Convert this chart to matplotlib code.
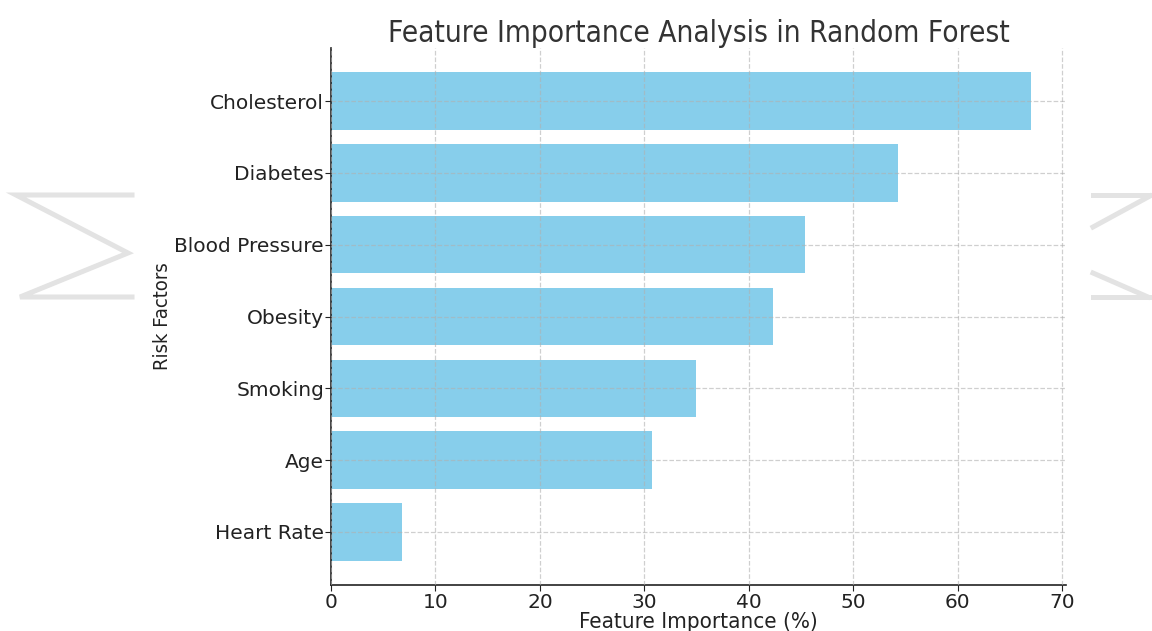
import matplotlib
matplotlib.use("Agg")
import matplotlib.pyplot as plt
from matplotlib.lines import Line2D

# Feature importance values (%) for each risk factor
risk_factors = ["Cholesterol", "Diabetes", "Blood Pressure", "Obesity",
                "Smoking", "Age", "Heart Rate"]
importance = [67.0, 54.3, 45.4, 42.3, 34.9, 30.7, 6.8]

W, H = 1152, 631
fig = plt.figure(figsize=(W / 100, H / 100), dpi=100)

# faint background logo strokes at the page edges
wm = "#e3e3e3"
def px_line(xs, ys):
    fig.add_artist(Line2D([x / W for x in xs], [1 - y / H for y in ys],
                          transform=fig.transFigure, color=wm, lw=3.6,
                          solid_joinstyle="miter", zorder=0))
px_line([132, 16, 128, 20, 132], [195, 195, 253, 297, 297])
px_line([1093, 1152], [195, 195])
px_line([1093, 1150], [227, 196])
px_line([1093, 1148], [273, 297])
px_line([1093, 1150], [297, 297])

ax = fig.add_axes([331 / W, 1 - 585 / H, (1066 - 331) / W, (585 - 48) / H])
ax.barh(risk_factors, importance, height=0.8, color="skyblue", zorder=2)
ax.invert_yaxis()

ax.grid(True, linestyle="--", color="#b0b0b0", alpha=0.6, lw=0.9, zorder=3)
ax.set_axisbelow(False)
for side in ("top", "right"):
    ax.spines[side].set_visible(False)
for side in ("left", "bottom"):
    ax.spines[side].set_color("#222222")
    ax.spines[side].set_linewidth(1.2)

ax.tick_params(axis="both", labelsize=14.5, colors="#222222", length=4)
ax.tick_params(axis="y", pad=1)
ax.tick_params(axis="x", pad=2)
ax.set_xticks(range(0, 80, 10))

lab_font = dict(family="DejaVu Sans", stretch="condensed", color="#222222")
ax.set_xlabel("Feature Importance (%)", fontsize=16, labelpad=0, **lab_font)
ax.set_ylabel("Risk Factors", fontsize=14.5, labelpad=2, **lab_font)
ax.set_title("Feature Importance Analysis in Random Forest", fontsize=21.3,
             family="DejaVu Sans", stretch="condensed", color="#333333", pad=4)

fig.savefig("out.png", dpi=100)
